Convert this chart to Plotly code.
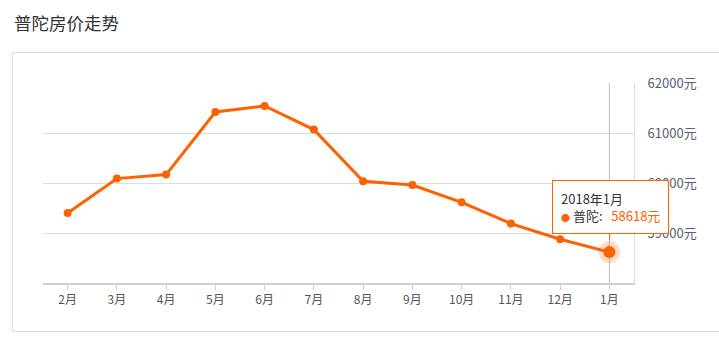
import plotly.graph_objects as go

months = ["2月", "3月", "4月", "5月", "6月", "7月", "8月", "9月", "10月", "11月", "12月", "1月"]
prices = [59400, 60088, 60168, 61420, 61540, 61068, 60034, 59960, 59614, 59188, 58874, 58618]
y_ticks = [58000, 59000, 60000, 61000, 62000]
series_name = "普陀"
hover_label = "2018年1月"
title_text = "普陀房价走势"

ORANGE = "#ff6000"
FONT = "Noto Sans CJK SC, Microsoft YaHei, sans-serif"

W, H = 719, 342
L, R, T, B = 43, 85, 83, 59
pw, ph = W - L - R, H - T - B

def px_x(p):
    return (p - L) / pw

def px_y(p):
    return (H - B - p) / ph

fig = go.Figure()

# vertical pointer line at the highlighted category
fig.add_trace(go.Scatter(
    x=[months[-1], months[-1]], y=[y_ticks[0], y_ticks[-1]],
    mode="lines", line=dict(color="#bbbbbb", width=1),
    hoverinfo="skip", showlegend=False))

fig.add_trace(go.Scatter(
    x=months, y=prices, mode="lines+markers", name=series_name,
    line=dict(color=ORANGE, width=3),
    marker=dict(color=ORANGE, size=8),
    showlegend=False))

# highlighted last point with halo
fig.add_trace(go.Scatter(
    x=[months[-1]], y=[prices[-1]], mode="markers",
    marker=dict(color="rgba(255,96,0,0.22)", size=22),
    hoverinfo="skip", showlegend=False))
fig.add_trace(go.Scatter(
    x=[months[-1]], y=[prices[-1]], mode="markers",
    marker=dict(color=ORANGE, size=12),
    hoverinfo="skip", showlegend=False))

# tooltip
fig.add_annotation(
    x=months[-1], y=prices[-1], xref="x", yref="y",
    text=(f"{hover_label}<br><span style='color:{ORANGE};font-size:9px'>●</span> "
          f"{series_name}:&nbsp;&nbsp;&nbsp;<span style='color:{ORANGE}'>{prices[-1]}元</span>"),
    align="left", showarrow=True, arrowhead=0, arrowcolor=ORANGE, arrowwidth=1,
    ax=1, ay=-45, standoff=12,
    bgcolor="white", bordercolor=ORANGE, borderwidth=1, borderpad=8,
    font=dict(family=FONT, size=13, color="#333333"))

# title
fig.add_annotation(
    x=px_x(12), y=px_y(22), xref="paper", yref="paper",
    xanchor="left", yanchor="middle", showarrow=False,
    text=title_text, font=dict(family=FONT, size=17.5, color="#333333"))

# container box
fig.add_shape(type="rect", xref="paper", yref="paper",
              x0=px_x(12.5), x1=px_x(730), y0=px_y(52.5), y1=px_y(331.5),
              line=dict(color="#dddddd", width=1), fillcolor="rgba(0,0,0,0)",
              layer="below")

fig.update_layout(
    width=W, height=H,
    margin=dict(l=L, r=R, t=T, b=B),
    paper_bgcolor="white", plot_bgcolor="white",
    font=dict(family=FONT, size=12, color="#555555"),
    hovermode=False,
    xaxis=dict(
        type="category", categoryorder="array", categoryarray=months,
        showgrid=False, showline=True, linecolor="#d0d0d0", linewidth=2,
        ticks="outside", ticklen=5, tickcolor="#d0d0d0",
        tickfont=dict(family=FONT, size=12, color="#555555"),
        range=[-0.5, len(months) - 0.5], fixedrange=True),
    yaxis=dict(
        side="right", range=[y_ticks[0], y_ticks[-1]],
        tickvals=y_ticks[1:], ticktext=[f"{v}元" for v in y_ticks[1:]],
        showgrid=True, gridcolor="#dddddd", gridwidth=1,
        zeroline=False, showline=True, linecolor="#dddddd", linewidth=1,
        ticks="", ticklabelstandoff=10,
        tickfont=dict(family=FONT, size=13, color="#556070"),
        fixedrange=True),
)

fig.write_html("out.html")
